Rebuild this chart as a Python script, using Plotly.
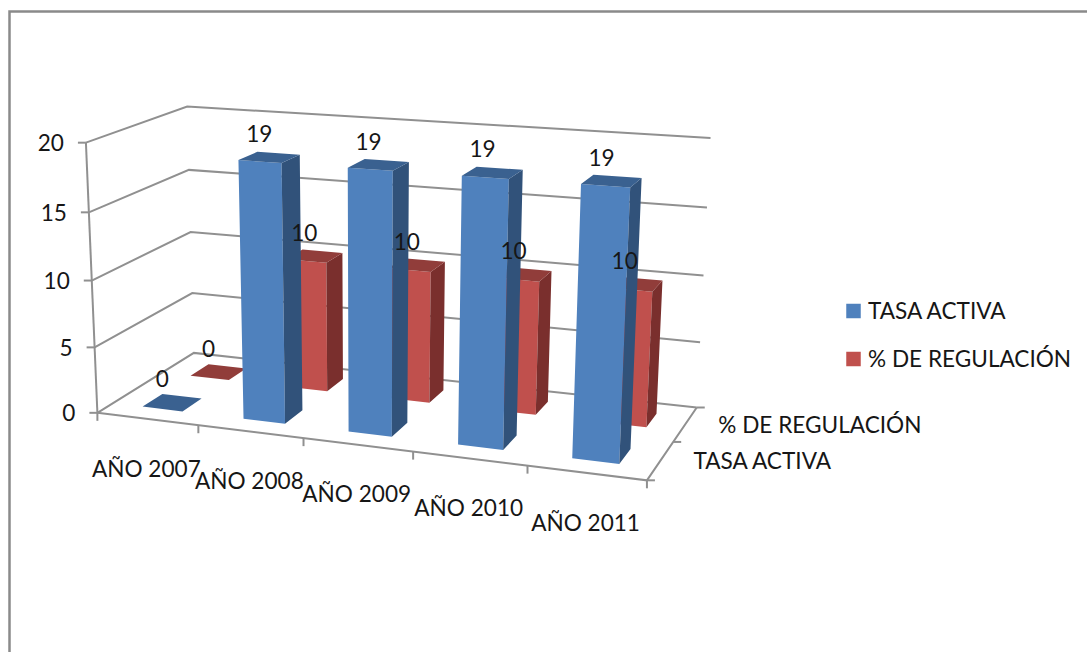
import numpy as np
import plotly.graph_objects as go

# Chart data
CATEGORIES = ["AÑO 2007", "AÑO 2008", "AÑO 2009", "AÑO 2010", "AÑO 2011"]
SERIES_NAMES = ["TASA ACTIVA", "% DE REGULACIÓN"]
TASA_ACTIVA = [0, 19, 19, 19, 19]
REGULACION = [0, 10, 10, 10, 10]
VALUE_TICKS = [0, 5, 10, 15, 20]
VALUE_MAX = 20

# Colours: front, side and top faces of each series
BLUE = ("#4f81bd", "#31527a", "#3a6190")
RED = ("#c0504d", "#7a2f2d", "#913d3a")
GRID = "#909090"
TEXT = "#161616"
FONT = "Lato"
FONT_SIZE = 22.6

W, H = 1087, 652

# Perspective camera for the chart box: box coordinates (u along categories,
# v along series, w up) and where they land on the canvas.
CAMERA_ANCHORS = [
    ((0, 0, 0), (97, 413)), ((1, 0, 0), (647, 480)),
    ((0, 1, 0), (194, 353)), ((1, 1, 0), (697, 407)),
    ((0, 0, 1), (85.5, 143)), ((0, 1, 1), (186.7, 106.7)),
    ((1, 1, 1), (711, 138)), ((1, 1, .75), (707, 208)),
    ((1, 1, .5), (703, 275)), ((0, 0, .5), (93, 279)),
    ((0, 1, .75), (189, 170)), ((.2, 0, 0), (198, 425.5)),
    ((.4, 0, 0), (304, 438.5)), ((.6, 0, 0), (413, 452)),
    ((.8, 0, 0), (527, 466)),
]


def solve_camera(anchors):
    rows = []
    for (u, v, w), (px, py) in anchors:
        p = [u, v, w, 1]
        x, y = px / 1000, py / 1000
        rows.append(p + [0, 0, 0, 0] + [-x * c for c in p])
        rows.append([0, 0, 0, 0] + p + [-y * c for c in p])
    return np.linalg.svd(np.array(rows))[2][-1].reshape(3, 4)


CAMERA = solve_camera(CAMERA_ANCHORS)


def project(u, v, w):
    x, y, s = CAMERA @ np.array([u, v, w, 1.0])
    return 1000 * x / s, 1000 * y / s


n_cat = len(CATEGORIES)
n_ser = len(SERIES_NAMES)
BAR_SHARE = 0.4  # gap width of 150 %
V_DEPTH = 0.5 * BAR_SHARE


def bar_box(cat, ser):
    """Extent of a bar in box coordinates (series 0 stands at the front)."""
    uc = (cat + 0.5) / n_cat
    vc = (ser + 0.5) / n_ser
    half_u = BAR_SHARE / n_cat / 2
    return uc - half_u, uc + half_u, vc - V_DEPTH / 2, vc + V_DEPTH / 2


def polygons(faces):
    xs, ys = [], []
    for face in faces:
        pts = [project(*p) for p in face]
        xs += [p[0] for p in pts] + [pts[0][0], None]
        ys += [p[1] for p in pts] + [pts[0][1], None]
    return xs, ys


def polyline(points):
    pts = [project(*p) for p in points]
    return [p[0] for p in pts], [p[1] for p in pts]


fig = go.Figure()


def add_line(xs, ys, width=2):
    fig.add_trace(go.Scatter(x=xs, y=ys, mode="lines", showlegend=False, hoverinfo="skip",
                             line=dict(color=GRID, width=width)))


# Walls: gridlines run along the left wall and then across the back wall
for t in VALUE_TICKS:
    w = t / VALUE_MAX
    add_line(*polyline([(0, 0, w), (0, 1, w), (1, 1, w)]))

# Floor outline and value axis
add_line(*polyline([(0, 0, 0), (1, 0, 0), (1, 1, 0)]))
add_line(*polyline([(0, 0, 0), (0, 0, 1)]))

# Tick marks on the three axes
TICK = 8
for t in VALUE_TICKS:
    x, y = project(0, 0, t / VALUE_MAX)
    add_line([x - TICK, x], [y, y])
for i in range(n_cat + 1):
    x, y = project(i / n_cat, 0, 0)
    add_line([x, x], [y, y + TICK])
for j in range(n_ser + 1):
    x, y = project(1, j / n_ser, 0)
    add_line([x, x + TICK], [y, y])

# Bars: back series first so the front series covers it
for ser in [1, 0]:
    values = [TASA_ACTIVA, REGULACION][ser]
    colours = [BLUE, RED][ser]
    front, side, top = [], [], []
    for cat, val in enumerate(values):
        u0, u1, v0, v1 = bar_box(cat, ser)
        h = val / VALUE_MAX
        if val > 0:
            front.append([(u0, v0, 0), (u1, v0, 0), (u1, v0, h), (u0, v0, h)])
            side.append([(u1, v0, 0), (u1, v1, 0), (u1, v1, h), (u1, v0, h)])
        top.append([(u0, v0, h), (u1, v0, h), (u1, v1, h), (u0, v1, h)])
    for faces, colour in zip((front, side, top), colours):
        xs, ys = polygons(faces)
        fig.add_trace(go.Scatter(x=xs, y=ys, mode="lines", fill="toself", fillcolor=colour,
                                 line=dict(width=0, color=colour), showlegend=False,
                                 hoverinfo="skip"))


# Text placed from the projected axis positions
def add_text(xs, ys, labels, position):
    fig.add_trace(go.Scatter(x=xs, y=ys, mode="text", text=labels, textposition=position,
                             showlegend=False, hoverinfo="skip", cliponaxis=False,
                             textfont=dict(family=FONT, size=FONT_SIZE, color=TEXT)))


# Value labels above each bar
label_x, label_y, label_text = [], [], []
for ser, values in enumerate([TASA_ACTIVA, REGULACION]):
    for cat, val in enumerate(values):
        u0, u1, v0, v1 = bar_box(cat, ser)
        x, y = project((u0 + u1) / 2, (v0 + v1) / 2, val / VALUE_MAX)
        label_x.append(x - 10)
        label_y.append(y - 21)
        label_text.append(str(val))
add_text(label_x, label_y, label_text, "middle center")

# Value axis labels
pts = [project(0, 0, t / VALUE_MAX) for t in VALUE_TICKS]
add_text([p[0] - 22 for p in pts], [p[1] + 3 for p in pts], [str(t) for t in VALUE_TICKS], "middle left")

# Category axis labels
pts = [project((i + 0.5) / n_cat, 0, 0) for i in range(n_cat)]
add_text([p[0] - 1 for p in pts], [p[1] + 52 for p in pts], CATEGORIES, "middle center")

# Series axis labels
pts = [project(1, (j + 0.5) / n_ser, 0) for j in range(n_ser)]
add_text([p[0] + 33 for p in pts], [p[1] + 3 for p in pts], SERIES_NAMES, "middle right")

# Legend drawn beside the chart box: a square key followed by the series name
LEGEND_KEY_X = 853.5
LEGEND_TEXT_X = 868
LEGEND_ROWS_Y = [311, 359]
for name, colours, y in zip(SERIES_NAMES, (BLUE, RED), LEGEND_ROWS_Y):
    fig.add_trace(go.Scatter(x=[LEGEND_KEY_X], y=[y], mode="markers", name=name, showlegend=False,
                             hoverinfo="name",
                             marker=dict(symbol="square", size=14.5, color=colours[0])))
    add_text([LEGEND_TEXT_X], [y + 2], [name], "middle right")

fig.update_layout(
    width=W, height=H,
    margin=dict(l=0, r=0, t=0, b=0),
    paper_bgcolor="white", plot_bgcolor="white",
    showlegend=False,
    xaxis=dict(range=[0, W], visible=False, fixedrange=True),
    yaxis=dict(range=[H, 0], visible=False, fixedrange=True),
    # Outer frame around the chart area
    shapes=[dict(type="path", path=f"M 9.5 {H} L 9.5 11.5 L {W} 11.5", xref="x", yref="y",
                 line=dict(color="#8a8a8a", width=2.5))],
)

fig.write_html("out.html")
